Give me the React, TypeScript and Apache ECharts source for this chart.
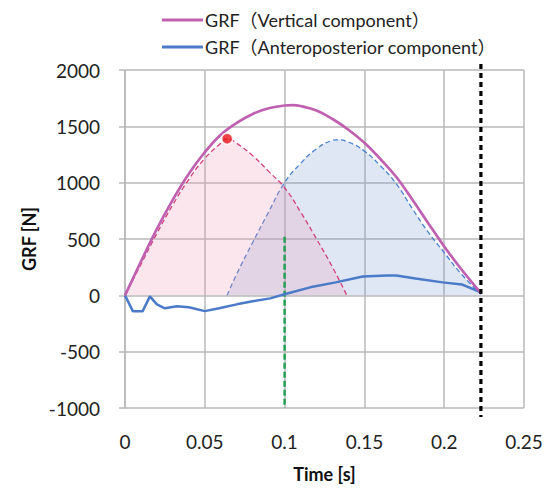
import React, { useEffect, useRef } from "react";
import * as echarts from "echarts";

const xTicks = [0, 0.05, 0.1, 0.15, 0.2, 0.25];
const yTicks = [-1000, -500, 0, 500, 1000, 1500, 2000];

const verticalGRF: [number, number][] = [
  [0, 0], [0.01, 300], [0.02, 590], [0.03, 850], [0.04, 1080], [0.05, 1270],
  [0.06, 1425], [0.07, 1530], [0.08, 1610], [0.09, 1660], [0.1, 1685],
  [0.105, 1688], [0.11, 1680], [0.12, 1640], [0.13, 1565], [0.14, 1470], [0.15, 1354],
  [0.16, 1210], [0.17, 1050], [0.18, 850], [0.19, 640], [0.2, 434],
  [0.21, 245], [0.223, 20],
];

const apGRF: [number, number][] = [
  [0, 0], [0.005, -142], [0.011, -142], [0.0156, -9], [0.02, -80], [0.025, -115],
  [0.0325, -97], [0.04, -106], [0.05, -140], [0.059, -115], [0.07, -80],
  [0.08, -53], [0.091, -27], [0.1, 9], [0.116, 71], [0.132, 115], [0.149, 168],
  [0.164, 177], [0.17, 177], [0.182, 150], [0.199, 115], [0.211, 97], [0.223, 27],
];

const pinkFit: [number, number][] = [
  [0, 0], [0.01, 275], [0.02, 550], [0.03, 805], [0.04, 1030], [0.05, 1215],
  [0.06, 1350], [0.064, 1390], [0.07, 1350], [0.08, 1240], [0.09, 1100],
  [0.1, 955], [0.11, 740], [0.12, 500], [0.13, 250], [0.139, 0],
];

const blueFit: [number, number][] = [
  [0.064, 0], [0.07, 190], [0.08, 469], [0.09, 740], [0.1, 1000], [0.11, 1170],
  [0.12, 1300], [0.13, 1375], [0.1325, 1380], [0.14, 1360], [0.15, 1280],
  [0.16, 1150], [0.17, 990], [0.18, 770], [0.19, 560], [0.2, 380], [0.21, 200],
  [0.223, 10],
];

const peakPoint: [number, number][] = [[0.064, 1390]];
const greenLine: [number, number][] = [[0.1, 520], [0.1, -1000]];
const blackLine: [number, number][] = [[0.223, 2053], [0.223, -1080]];

const legendNames = ["GRF（Vertical component）", "GRF（Anteroposterior component）"];

const FONT = "Lato, 'Noto Sans CJK JP', sans-serif";

export default function App() {
  const ref = useRef<HTMLDivElement>(null);
  useEffect(() => {
    if (!ref.current) return;
    const chart = echarts.init(ref.current, undefined, { renderer: "svg" });
    chart.setOption({
      animation: false,
      backgroundColor: "#fff",
      textStyle: { fontFamily: FONT },
      grid: { left: 125, right: 26, top: 70, bottom: 79 },
      legend: {
        data: legendNames,
        orient: "vertical",
        left: 162,
        top: 9,
        padding: 0,
        icon: "rect",
        itemWidth: 41,
        itemHeight: 3,
        itemGap: 5,
        textStyle: { fontSize: 18, color: "#222", lineHeight: 22, padding: [0, 0, 0, -3], fontFamily: FONT },
      },
      xAxis: {
        type: "value",
        min: xTicks[0],
        max: xTicks[xTicks.length - 1],
        interval: 0.05,
        name: "Time [s]",
        nameLocation: "middle",
        nameGap: 57,
        nameTextStyle: { fontSize: 18, fontWeight: "bold", color: "#111", fontFamily: FONT },
        axisLine: { show: false },
        axisTick: { show: false },
        axisLabel: { fontSize: 19, color: "#222", margin: 24, fontFamily: FONT, formatter: (v: number) => String(v) },
        splitLine: { show: true, lineStyle: { color: "#b8b8b8", width: 1.5 } },
      },
      yAxis: {
        type: "value",
        min: yTicks[0],
        max: yTicks[yTicks.length - 1],
        interval: 500,
        name: "GRF [N]",
        nameLocation: "middle",
        nameGap: 86,
        nameTextStyle: { fontSize: 18, fontWeight: "bold", color: "#111", fontFamily: FONT },
        axisLine: { show: true, lineStyle: { color: "#b8b8b8", width: 1.5 } },
        axisTick: { show: true, inside: false, length: 6, lineStyle: { color: "#b8b8b8", width: 1.5 } },
        axisLabel: { fontSize: 19, color: "#222", margin: 25, fontFamily: FONT, formatter: (v: number) => String(v) },
        splitLine: { show: true, lineStyle: { color: "#b8b8b8", width: 1.5 } },
      },
      series: [
        {
          name: "blueFit",
          type: "line",
          data: blueFit,
          smooth: true,
          symbol: "none",
          lineStyle: { color: "#4a80d0", width: 1.3, type: [5, 3] },
          areaStyle: { color: "rgba(118,150,212,0.33)" },
          z: 2,
        },
        {
          name: "pinkFit",
          type: "line",
          data: pinkFit,
          smooth: true,
          symbol: "none",
          lineStyle: { color: "#d2407c", width: 1.3, type: [5, 3] },
          areaStyle: { color: "rgba(241,152,181,0.35)" },
          z: 3,
        },
        {
          name: "green",
          type: "line",
          data: greenLine,
          symbol: "none",
          lineStyle: { color: "#23a055", width: 2.5, type: [6, 3] },
          z: 4,
        },
        {
          name: legendNames[1],
          type: "line",
          data: apGRF,
          symbol: "none",
          color: "#4a7ac8",
          lineStyle: { color: "#4a7ac8", width: 2.5 },
          z: 5,
        },
        {
          name: legendNames[0],
          type: "line",
          data: verticalGRF,
          smooth: 0.4,
          symbol: "none",
          color: "#c060b0",
          lineStyle: { color: "#c060b0", width: 2.7 },
          z: 6,
        },
        {
          name: "black",
          type: "line",
          data: blackLine,
          symbol: "none",
          clip: false,
          lineStyle: { color: "#000", width: 3.2, type: [5, 4] },
          z: 7,
        },
        {
          name: "peak",
          type: "scatter",
          data: peakPoint,
          symbolSize: 11,
          itemStyle: { color: "#e8141c", borderColor: "#fff", borderWidth: 1.5 },
          z: 8,
        },
      ],
    });
    return () => chart.dispose();
  }, []);
  return <div ref={ref} style={{ position: "absolute", left: 0, top: 0, width: 550, height: 488 }} />;
}
